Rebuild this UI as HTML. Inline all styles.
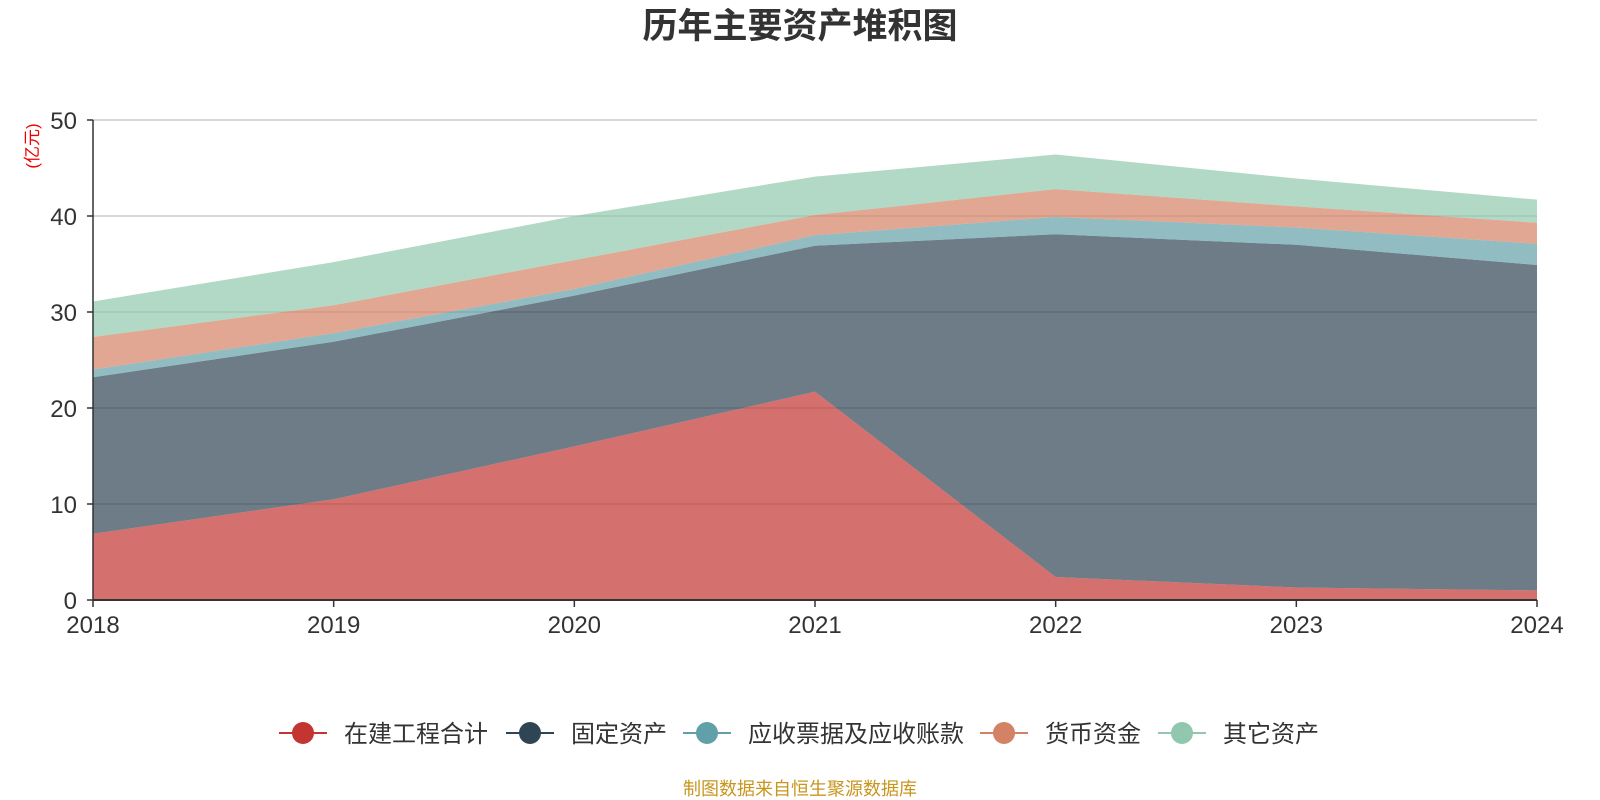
<!DOCTYPE html>
<html><head><meta charset="utf-8"><style>
body{margin:0;background:#fff;}
svg{display:block;font-family:"Liberation Sans","Noto Sans CJK SC",sans-serif;}
</style></head><body>
<svg id="c" width="1600" height="800">
<text x="800" y="38" text-anchor="middle" font-size="35" font-weight="bold" fill="#333">历年主要资产堆积图</text>
<text transform="translate(38,146) rotate(-90)" text-anchor="middle" font-size="17" fill="#e00">(亿元)</text>
<g id="grid"></g><g id="areas"></g><g id="axes"></g><g id="legend"></g>
<text x="800" y="795" text-anchor="middle" font-size="18" fill="#c8961e">制图数据来自恒生聚源数据库</text>
</svg>
<script>
const categories=["2018","2019","2020","2021","2022","2023","2024"];
const seriesNames=["在建工程合计","固定资产","应收票据及应收账款","货币资金","其它资产"];
const s1=[6.9,10.5,16.0,21.7,2.4,1.3,1.0];
const s2=[16.3,16.4,15.7,15.2,35.7,35.7,33.9];
const s3=[0.8,0.9,0.7,1.1,1.8,1.8,2.2];
const s4=[3.4,2.9,3.0,2.1,2.9,2.2,2.2];
const s5=[3.7,4.5,4.6,4.0,3.6,2.9,2.4];
const yTicks=[0,10,20,30,40,50];
const series=[s1,s2,s3,s4,s5];
const colors=["#c23531","#2f4554","#61a0a8","#d48265","#91c7ae"];
const L=93,R=1537,T=120,B=600,NS="http://www.w3.org/2000/svg";
const xs=i=>L+(R-L)*i/(categories.length-1);
const ys=v=>B-(B-T)*v/50;
function mk(t,a,p){const e=document.createElementNS(NS,t);for(const k in a)e.setAttribute(k,a[k]);p.appendChild(e);return e;}
const grid=document.getElementById('grid'),areas=document.getElementById('areas'),axes=document.getElementById('axes'),leg=document.getElementById('legend');
yTicks.forEach(v=>{
 if(v>0){const g=mk('line',{x1:L,x2:R,y1:ys(v),y2:ys(v),stroke:'#ccc','stroke-width':1.5},grid);
 
 }
 const t=mk('text',{x:L-16,y:ys(v)+9,'text-anchor':'end','font-size':24,fill:'#333'},axes);t.textContent=v;
 
 
 mk('line',{x1:L-6,x2:L,y1:ys(v),y2:ys(v),stroke:'#333','stroke-width':1.5},axes);
});
let base=categories.map(()=>0);
series.forEach((s,k)=>{
 const top=base.map((b,i)=>b+s[i]);
 let d='M'+categories.map((c,i)=>xs(i)+','+ys(top[i])).join('L');
 for(let i=categories.length-1;i>=0;i--)d+='L'+xs(i)+','+ys(base[i]);
 const p=mk('path',{d:d+'Z',fill:colors[k],'fill-opacity':0.7},areas);
 
 
 base=top;
});
mk('line',{x1:L,x2:L,y1:T,y2:B,stroke:'#333','stroke-width':1.5},axes);
mk('line',{x1:L,x2:R,y1:B,y2:B,stroke:'#333','stroke-width':2},axes);
categories.forEach((c,i)=>{
 mk('line',{x1:xs(i),x2:xs(i),y1:B,y2:B+7,stroke:'#333','stroke-width':1.5},axes);
 const t=mk('text',{x:xs(i),y:B+33,'text-anchor':'middle','font-size':24,fill:'#333'},axes);t.textContent=c;
 
 
});
const lx=[303,530,707,1004,1182];
seriesNames.forEach((n,k)=>{
 const g=mk('g',{},leg);
 
 
 mk('line',{x1:lx[k]-24,x2:lx[k]+24,y1:733,y2:733,stroke:colors[k],'stroke-width':2},g);
 mk('circle',{cx:lx[k],cy:733,r:11,fill:colors[k]},g);
 const t=mk('text',{x:lx[k]+41,y:742,'font-size':24,fill:'#333'},g);t.textContent=n;
});
</script>
</body></html>
